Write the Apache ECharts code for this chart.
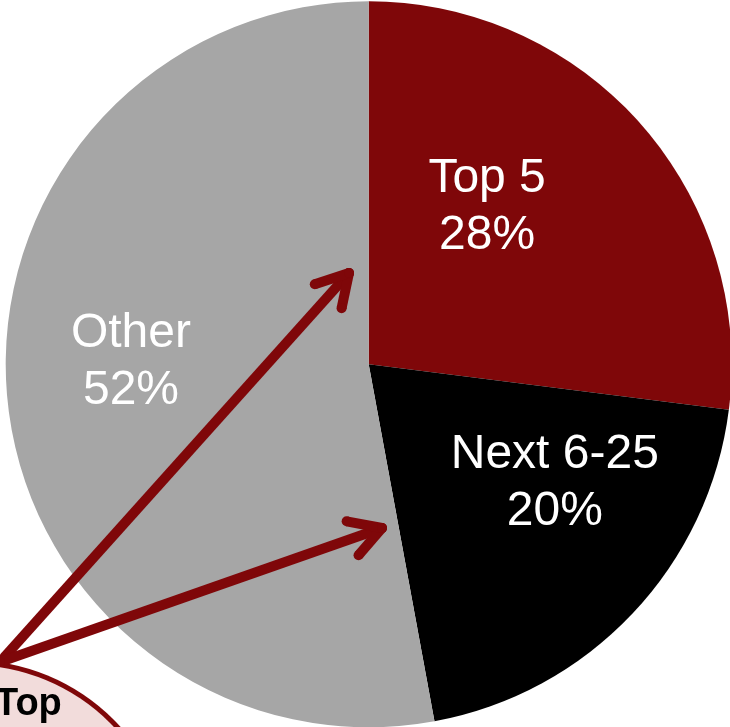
<!DOCTYPE html>
<html>
<head>
<meta charset="utf-8">
<script src="https://cdn.jsdelivr.net/npm/echarts@6/dist/echarts.min.js"></script>
<style>
  html, body { margin: 0; padding: 0; background: #fff; }
  #chartpie { width: 730px; height: 727px; }
</style>
</head>
<body>
<div id="chartpie"></div>
<script>
  // slices, clockwise from 12 o'clock
  var names = ['Top 5', 'Next 6-25', 'Other'];
  var values = [27.0, 20.1, 52.9];
  var pctText = ['28%', '20%', '52%'];
  var colors = ['#7F0709', '#000000', '#A6A6A6'];
  // nudges of the labels from the default inside spot
  var labelShift = [[-20, -35], [52, -8], [-54, -19]];

  var myChart = echarts.init(document.getElementById('chartpie'));

  var darkRed = '#7F0709';
  var from = [0, 662];
  var tips = [[349, 273], [382, 528]];
  var thick = 10;

  // thick segment as a filled bar with round ends
  function seg(a, b) {
    var dx = b[0] - a[0], dy = b[1] - a[1];
    var l = Math.sqrt(dx * dx + dy * dy);
    var nx = -dy / l * thick / 2, ny = dx / l * thick / 2;
    return [
      {type: 'polygon', shape: {points: [[a[0] + nx, a[1] + ny], [b[0] + nx, b[1] + ny],
        [b[0] - nx, b[1] - ny], [a[0] - nx, a[1] - ny]]}, style: {fill: darkRed}},
      {type: 'circle', shape: {cx: a[0], cy: a[1], r: thick / 2}, style: {fill: darkRed}},
      {type: 'circle', shape: {cx: b[0], cy: b[1], r: thick / 2}, style: {fill: darkRed}}
    ];
  }

  // arrow = shaft + two short wings at the tip
  function arrow(tip) {
    var ang = Math.atan2(tip[1] - from[1], tip[0] - from[0]);
    var len = 36, spread = Math.PI / 6;
    var w1 = [tip[0] - len * Math.cos(ang - spread), tip[1] - len * Math.sin(ang - spread)];
    var w2 = [tip[0] - len * Math.cos(ang + spread), tip[1] - len * Math.sin(ang + spread)];
    return seg(from, tip).concat(seg(w1, tip), seg(w2, tip));
  }

  var option = {
    animation: false,
    series: [{
      type: 'pie',
      center: [368.7, 364.3],
      radius: 363,
      startAngle: 90,
      clockwise: true,
      silent: true,
      label: {
        show: true,
        position: 'inside',
        color: '#ffffff',
        fontFamily: '"Liberation Sans", Arial, sans-serif',
        fontSize: 48,
        lineHeight: 57,
        formatter: function (p) { return names[p.dataIndex] + '\n' + pctText[p.dataIndex]; }
      },
      labelLine: {show: false},
      data: names.map(function (n, i) {
        return {name: n, value: values[i], itemStyle: {color: colors[i]},
          label: {offset: labelShift[i]}};
      })
    }, {
      // callout bubble and arrows, drawn in pixels
      type: 'custom',
      coordinateSystem: 'none',
      silent: true,
      z: 10,
      data: [0],
      renderItem: function () {
        var kids = [
          {type: 'circle', shape: {cx: -30, cy: 863, r: 203}, style: {fill: darkRed}},
          {type: 'circle', shape: {cx: -30, cy: 863, r: 198}, style: {fill: '#F2DCDB'}},
          {type: 'text', x: -5, y: 686,
            style: {text: 'Top', fill: '#000', fontSize: 38, fontWeight: 'bold',
              fontFamily: '"Liberation Sans", Arial, sans-serif'}}
        ];
        tips.forEach(function (t) { kids = kids.concat(arrow(t)); });
        return {type: 'group', children: kids};
      }
    }]
  };
  myChart.setOption(option);
</script>
</body>
</html>
